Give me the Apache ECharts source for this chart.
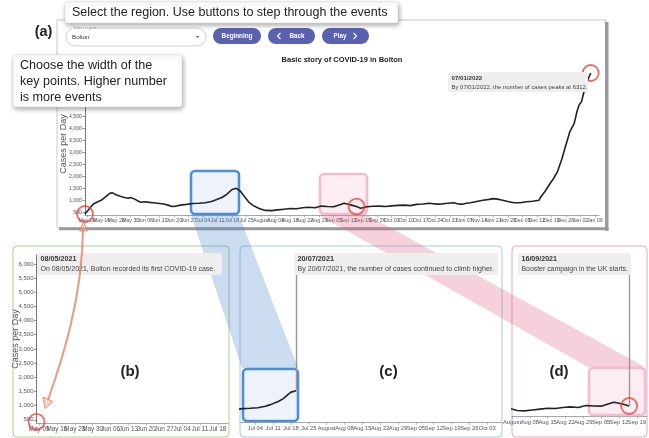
<!DOCTYPE html>
<html><head><meta charset="utf-8">
<script src="https://cdn.jsdelivr.net/npm/echarts@6/dist/echarts.min.js"></script>
<style>html,body{margin:0;padding:0;background:#fff}#c{width:649px;height:438px}</style>
</head><body><div id="c"></div>
<script>
// ---- data (day 0 = 08 May 2021) ----
const dayIndex = [0,2,4,6,8,10,12,13,15,17,19,21,22,24,26,27,29,31,33,36,38,40,42,44,46,49,52,55,58,61,63,66,68,70,71,73,75,77,79,81,84,87,90,93,96,99,102,105,108,111,114,117,120,123,125,127,129,131,133,136,139,142,145,148,151,154,157,160,163,166,168,170,172,175,178,180,182,184,186,189,192,195,197,199,201,204,207,210,213,216,219,220,222,224,226,228,230,232,234,236,237.5,238.5,239.5,241,242.5,244];
const casesPerDay = [430,640,850,930,1010,1150,1290,1320,1230,1170,1120,1090,1120,1050,950,920,940,915,900,870,845,800,740,760,800,830,870,880,900,950,1010,1120,1220,1380,1450,1500,1380,1150,930,790,660,580,570,600,630,660,650,690,710,690,760,740,735,820,875,840,790,740,670,730,750,760,740,770,790,800,780,830,850,880,860,840,850,880,900,850,840,880,900,950,1000,1040,1070,1050,1010,950,900,900,940,960,1000,1150,1380,1650,1900,2200,2700,3300,3880,4200,4750,5000,5100,5600,6000,6312];
const eventDays = [0, 73, 131, 244];
const eventDates = ['08/05/2021', '20/07/2021', '16/09/2021', '07/01/2022'];
const eventTexts = [
  'On 08/05/2021, Bolton recorded its first COVID-19 case.',
  'By 20/07/2021, the number of cases continued to climb higher.',
  'Booster campaign in the UK starts.',
  'By 07/01/2022, the number of cases peaks at 6312.'
];
const yTickValues = [500,1000,1500,2000,2500,3000,3500,4000,4500,5000,5500,6000];
const Y_MIN = 388, Y_MAX = 6312;

// ---- helpers ----
const START = Date.UTC(2021, 4, 8);
const MS = ['Jan','Feb','Mar','Apr','May','Jun','Jul','Aug','Sep','Oct','Nov','Dec'];
const ML = ['January','February','March','April','May','June','July','August','September','October','November','December'];
const sundayTicks = []; for (let d = 1; d <= 250; d += 7) sundayTicks.push(d);
const ticksEven = sundayTicks.filter((_, i) => i % 2 === 0);
const ticksOdd = sundayTicks.filter((_, i) => i % 2 === 1);
function fmtDay(v) {
  const d = new Date(START + Math.round(v) * 864e5);
  const dd = d.getUTCDate();
  if (dd === 1) return ML[d.getUTCMonth()];
  return MS[d.getUTCMonth()] + ' ' + (dd < 10 ? '0' + dd : dd);
}
function upTo(limit) {
  const out = [];
  dayIndex.forEach((d, i) => { if (d <= limit) out.push([d, casesPerDay[i]]); });
  return out;
}
function valAt(d) { return casesPerDay[dayIndex.indexOf(d)]; }
const FF = '"Liberation Sans", Arial, sans-serif';
const AXC = '#8a8fa8';

function xAx(gi, min, max, fs, primary) {
  return {
    type: 'value', gridIndex: gi, min: min, max: max, position: 'bottom', offset: 0,
    axisLine: { show: primary, onZero: false, lineStyle: { color: AXC, width: 0.8 } },
    axisTick: { show: primary, customValues: sundayTicks, length: 2.5, lineStyle: { color: AXC, width: 0.6 } },
    axisLabel: { customValues: primary ? ticksEven : ticksOdd, formatter: fmtDay, fontSize: fs, color: '#555', margin: 3, fontFamily: FF,
      showMinLabel: true, showMaxLabel: true },
    splitLine: { show: false }
  };
}
function yAx(gi, show, fs, nameGap) {
  return {
    type: 'value', gridIndex: gi, min: Y_MIN, max: Y_MAX, show: show,
    name: show ? 'Cases per Day' : '', nameLocation: 'middle', nameGap: nameGap, nameRotate: 90,
    nameMoveOverlap: false,
    nameTextStyle: { fontSize: 9, color: '#555', fontFamily: FF },
    axisLine: { show: true, lineStyle: { color: '#555', width: 0.8 } },
    axisTick: { show: true, customValues: yTickValues, length: 2.5, lineStyle: { color: '#555', width: 0.6 } },
    axisLabel: { customValues: yTickValues, formatter: v => v.toLocaleString('en-US'), fontSize: fs, color: '#555', margin: 3, fontFamily: FF,
      showMinLabel: true, showMaxLabel: true },
    splitLine: { show: false }
  };
}
function lineSeries(gi, limit, mark) {
  const s = {
    type: 'line', xAxisIndex: gi, yAxisIndex: gi, data: upTo(limit), showSymbol: false, silent: true,
    lineStyle: { color: '#222', width: 1.6 }, z: 3
  };
  if (mark) {
    s.markLine = {
      silent: true, symbol: ['none', 'none'], label: { show: false },
      lineStyle: { color: '#9a9a9a', width: 1.4, type: 'solid' },
      data: [[{ coord: [limit, mark] }, { coord: [limit, valAt(limit)] }]]
    };
  }
  return s;
}
function circles(gi, days) {
  return {
    type: 'scatter', xAxisIndex: gi, yAxisIndex: gi, silent: true, z: 6,
    data: days.map(d => [d, valAt(d)]), symbol: 'circle', symbolSize: 16,
    itemStyle: { color: 'rgba(0,0,0,0)', borderColor: '#e8463c', borderWidth: 1.8 }
  };
}

// ---- graphic helpers ----
function R(x, y, w, h, style, z, r) {
  return { type: 'rect', shape: { x: x, y: y, width: w, height: h, r: r || 0 }, style: style, z: z, silent: true };
}
function T(x, y, text, size, opts) {
  opts = opts || {};
  return {
    type: 'text', x: x, y: y, z: opts.z || 50, silent: true,
    style: {
      text: text, fill: opts.color || '#222', fontSize: size, fontWeight: opts.bold ? 'bold' : 'normal',
      fontFamily: FF, textAlign: opts.align || 'left', align: opts.align || 'left',
      textVerticalAlign: 'middle', verticalAlign: 'middle'
    }
  };
}
function tip(x, y, w, h, title, body, fs) {
  return [
    R(x, y, w, h, { fill: '#eeeeee' }, 45, 2),
    T(x + 3.5, y + 6.2, title, fs + 0.2, { bold: true, color: '#333', z: 46 }),
    T(x + 3.5, y + 15.8, body, fs, { color: '#444', z: 46 })
  ];
}
const shadow = { shadowBlur: 5, shadowColor: 'rgba(0,0,0,0.35)', shadowOffsetX: 1, shadowOffsetY: 2 };

const graphics = [
  // panel (a) frame
  R(57, 20, 549, 208, { fill: '#fff', stroke: '#c8c8c8', lineWidth: 1 }, 0),
  R(605, 22, 3.5, 209, { fill: '#9a9a9a' }, 0),
  R(59, 227.3, 549.5, 3, { fill: '#9a9a9a' }, 0),
  // panels b, c, d
  R(13, 246, 216, 191, { fill: '#fff', stroke: '#a9d18e', lineWidth: 1 }, 0, 4),
  R(240, 246, 262, 191, { fill: '#fff', stroke: '#a9c8ea', lineWidth: 1 }, 0, 4),
  R(512, 246, 135, 191, { fill: '#fff', stroke: '#eba5bd', lineWidth: 1 }, 0, 4),
  // zoom boxes
  R(191, 171, 48, 43, { fill: '#eef3fb', stroke: '#4d8fd6', lineWidth: 2.6 }, 1, 4),
  R(320, 174, 47, 40, { fill: '#fcedf2', stroke: '#f3bccd', lineWidth: 2.6 }, 1, 4),
  R(243, 369, 55, 52, { fill: '#eef3fb', stroke: '#4d8fd6', lineWidth: 2.6 }, 1, 4),
  R(589, 368, 56, 47, { fill: '#fcedf2', stroke: '#f3bccd', lineWidth: 2.6 }, 1, 4),
  // bands
  { type: 'polygon', z: 30, silent: true, shape: { points: [[191, 215], [239, 215], [298, 368], [242, 368]] }, style: { fill: 'rgba(70,125,200,0.28)' } },
  { type: 'polygon', z: 30, silent: true, shape: { points: [[319, 215], [367, 215], [645, 367], [588, 367]] }, style: { fill: 'rgba(220,90,130,0.28)' } },
  // orange arrow
  { type: 'bezierCurve', z: 55, silent: true, shape: { x1: 83, y1: 230, cpx1: 82, cpy1: 300, cpx2: 62, cpy2: 360, x2: 48, y2: 400 }, style: { stroke: 'rgba(226,128,100,0.8)', lineWidth: 2, fill: null } },
  { type: 'polygon', z: 55, silent: true, shape: { points: [[83.5, 222], [79.5, 231], [87.5, 231]] }, style: { fill: 'rgba(240,170,150,0.5)', stroke: 'rgba(226,128,100,0.85)', lineWidth: 1 } },
  { type: 'polygon', z: 55, silent: true, shape: { points: [[45, 408.5], [43, 397], [53, 401.5]] }, style: { fill: 'rgba(240,170,150,0.5)', stroke: 'rgba(226,128,100,0.85)', lineWidth: 1 } },
  // title
  T(342, 59.5, 'Basic story of COVID-19 in Bolton', 7.5, { bold: true, align: 'center', z: 40 }),
  // select field
  R(66, 28, 140, 18, { fill: '#fff', stroke: '#c4c4c4', lineWidth: 0.8 }, 40, 9),
  R(72, 26, 23, 4, { fill: '#fff' }, 41),
  T(73, 28, 'Select region', 4, { color: '#999', z: 42 }),
  T(72, 37.5, 'Bolton', 6.2, { color: '#333', z: 42 }),
  { type: 'polygon', z: 42, silent: true, shape: { points: [[195.5, 36], [199.5, 36], [197.5, 38]] }, style: { fill: '#666' } },
  // buttons
  R(213, 28, 48, 16, { fill: '#5961b0' }, 40, 8),
  T(237, 36.3, 'Beginning', 6.3, { bold: true, color: '#fff', align: 'center', z: 42 }),
  R(268, 28, 47, 16, { fill: '#5961b0' }, 40, 8),
  { type: 'polyline', z: 42, silent: true, shape: { points: [[280.5, 33], [277.5, 36], [280.5, 39]] }, style: { stroke: '#fff', lineWidth: 1.1, fill: null } },
  T(297, 36.3, 'Back', 6.3, { bold: true, color: '#fff', align: 'center', z: 42 }),
  R(322, 28, 47, 16, { fill: '#5961b0' }, 40, 8),
  T(340, 36.3, 'Play', 6.3, { bold: true, color: '#fff', align: 'center', z: 42 }),
  { type: 'polyline', z: 42, silent: true, shape: { points: [[353.5, 33], [356.5, 36], [353.5, 39]] }, style: { stroke: '#fff', lineWidth: 1.1, fill: null } },
  // callouts
  R(65, 2, 333, 21, Object.assign({ fill: '#fff', stroke: '#ddd', lineWidth: 0.5 }, shadow), 60, 2),
  T(72, 13, 'Select the region. Use buttons to step through the events', 12.5, { color: '#222', z: 61 }),
  R(13, 55, 169, 52, Object.assign({ fill: '#fff', stroke: '#ddd', lineWidth: 0.5 }, shadow), 60, 3),
  T(20, 65.5, 'Choose the width of the', 12.6, { color: '#222', z: 61 }),
  T(20, 81.5, 'key points. Higher number', 12.6, { color: '#222', z: 61 }),
  T(20, 97.5, 'is more events', 12.6, { color: '#222', z: 61 }),
  // panel labels
  T(43.5, 31.5, '(a)', 14.5, { bold: true, align: 'center', z: 62 }),
  T(130, 371.5, '(b)', 15, { bold: true, align: 'center', z: 62 }),
  T(388.5, 372, '(c)', 15, { bold: true, align: 'center', z: 62 }),
  T(559, 372, '(d)', 15, { bold: true, align: 'center', z: 62 })
].concat(
  tip(448, 72, 140, 20, eventDates[3], eventTexts[3], 5.95),
  tip(37, 253, 185, 22, eventDates[0], eventTexts[0], 7.0),
  tip(294, 253, 204, 22, eventDates[1], eventTexts[1], 7.1),
  tip(518, 253, 113, 22, eventDates[2], eventTexts[2], 6.9)
);

const gridRanges = [[0, 248, 5.3], [0, 75, 6.4], [51, 153.8, 5.8], [85, 138, 5.8]];

const chart = echarts.init(document.getElementById('c'), null, { renderer: 'canvas' });
chart.setOption({
  animation: false,
  backgroundColor: '#fff',
  grid: [
    { left: 85, right: 50, top: 73, bottom: 223 },
    { left: 36.5, right: 421, top: 255, bottom: 15 },
    { left: 240, right: 147, top: 254, bottom: 15.7 },
    { left: 512, right: 2, top: 248, bottom: 22 }
  ],
  xAxis: gridRanges.map((g, i) => xAx(i, g[0], g[1], g[2], true))
    .concat(gridRanges.map((g, i) => xAx(i, g[0], g[1], g[2], false))),
  yAxis: [
    yAx(0, true, 5.2, 16.5),
    yAx(1, true, 6, 16),
    yAx(2, false, 6, 18),
    yAx(3, false, 6, 18)
  ],
  series: [
    lineSeries(0, 244, null),
    lineSeries(1, 0, null),
    lineSeries(2, 73, 6312),
    lineSeries(3, 131, 6050),
    circles(0, [0, 131, 244]),
    circles(1, [0]),
    circles(3, [131])
  ],
  graphic: { elements: graphics }
});
</script></body></html>
